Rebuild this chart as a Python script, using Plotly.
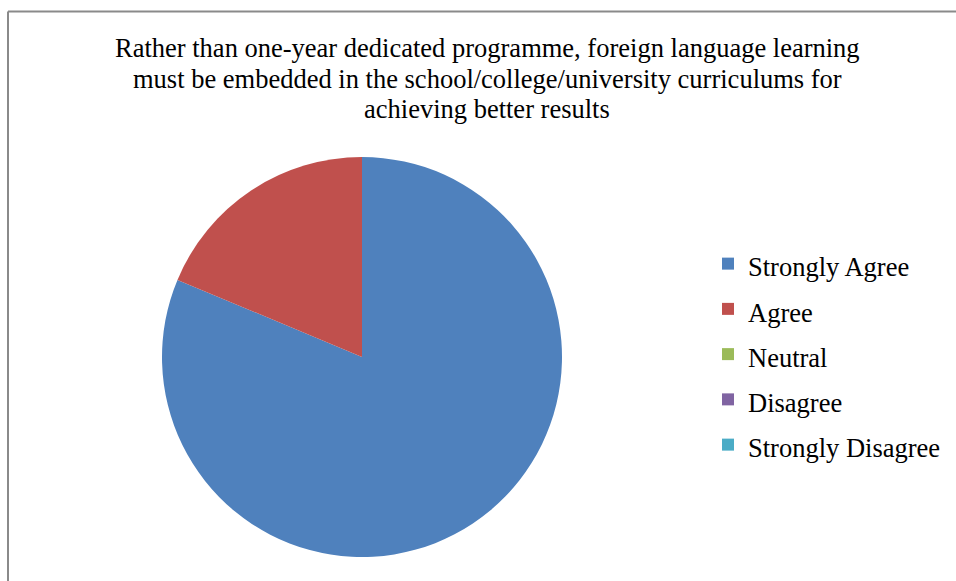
import plotly.graph_objects as go

# Survey responses (percent of respondents)
labels = ["Strongly Agree", "Agree", "Neutral", "Disagree", "Strongly Disagree"]
values = [81.3, 18.7, 0, 0, 0]
colors = ["#4F81BD", "#C0504D", "#9BBB59", "#8064A2", "#4BACC6"]

title_lines = [
    "Rather than one-year dedicated programme, foreign language learning",
    "must be embedded in the school/college/university curriculums for",
    "achieving better results",
]

W, H = 956, 581
FONT = "Liberation Serif"

fig = go.Figure(
    go.Pie(
        labels=[f"<span style='font-size:26.5px'>{l}</span>" for l in labels],
        values=values,
        marker=dict(colors=colors, line=dict(width=0)),
        sort=False,
        direction="clockwise",
        rotation=0,
        textinfo="none",
        hoverinfo="label+percent",
        domain=dict(x=[162 / W, 562 / W], y=[24 / H, 424 / H]),
    )
)

# frame lines along the top and left of the chart area
fig.add_shape(type="line", xref="paper", yref="paper",
              x0=8 / W, x1=1, y0=1 - 11.5 / H, y1=1 - 11.5 / H,
              line=dict(color="#8a8a8a", width=2))
fig.add_shape(type="line", xref="paper", yref="paper",
              x0=8 / W, x1=8 / W, y0=0, y1=1 - 11.5 / H,
              line=dict(color="#8a8a8a", width=2))

# centred three-line title, one annotation per line for tight spacing
for i, line in enumerate(title_lines):
    fig.add_annotation(
        text=line, xref="paper", yref="paper",
        x=487 / W, y=1 - (48 + 30.7 * i) / H, xanchor="center", yanchor="middle",
        showarrow=False, align="center",
        font=dict(family=FONT, size=26.5, color="#000000"),
    )

fig.update_layout(
    width=W, height=H,
    margin=dict(l=0, r=0, t=0, b=0),
    paper_bgcolor="white",
    plot_bgcolor="white",
    font=dict(family=FONT, color="#000000"),
    legend=dict(
        x=708 / W, y=1 - 236 / H, xanchor="left", yanchor="top",
        font=dict(family=FONT, size=32.5, color="#000000"),
        bgcolor="rgba(0,0,0,0)",
    ),
)

fig.write_html("out.html")
